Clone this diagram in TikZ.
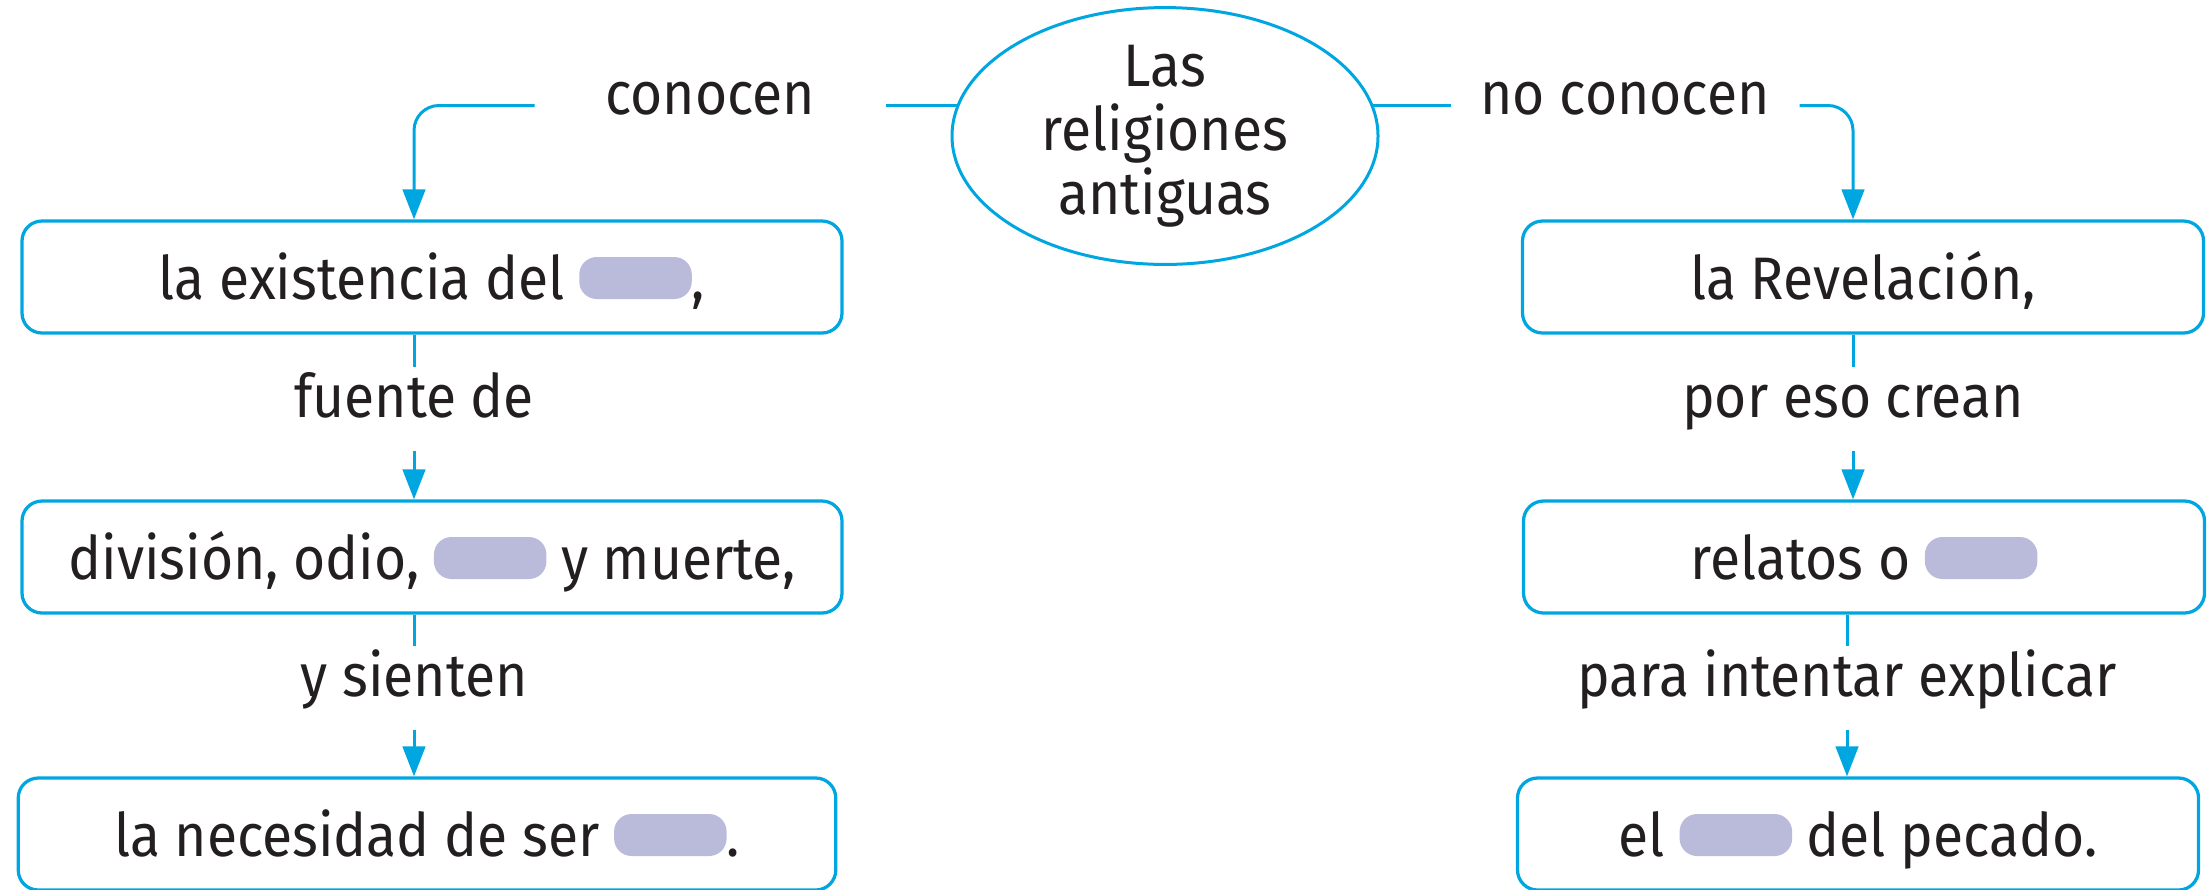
\documentclass[tikz,border=0pt]{standalone}
\usepackage{fontspec}
\setmainfont{Fira Sans}[FakeStretch=0.92]
\usetikzlibrary{shapes.geometric,arrows.meta,backgrounds}
\definecolor{lineblue}{RGB}{0,166,224}
\definecolor{blankc}{RGB}{186,187,219}
\definecolor{txt}{RGB}{35,31,32}
\newcommand{\blank}{\tikz[baseline=0pt]\fill[blankc,rounded corners=7pt] (0pt,0pt) rectangle (45pt,16.8pt);}
\begin{document}
\begin{tikzpicture}[x=0.4pt,y=-0.4pt,
  font=\fontsize{24pt}{25.5pt}\selectfont, text=txt,
  conn/.style={draw=lineblue,line width=1.2pt},
  arr/.style={-{Triangle[length=12pt,width=9pt]}},
  box/.style={draw=lineblue,line width=1.3pt,rounded corners=8pt,minimum height=44.8pt,
    inner sep=0pt,align=center,text height=17.6pt,text depth=0pt},
  ell/.style={ellipse,draw=lineblue,line width=1.2pt,fill=white,minimum width=170.4pt,
    minimum height=90pt,inner sep=0pt,align=center},
  lbl/.style={anchor=base,text height=16.4pt,text depth=9.6pt,inner ysep=3.6pt,inner xsep=0pt}]
\useasboundingbox (0,0) rectangle (2211,889);

% central ellipse
\node[ell] (c) at (1165,136) {Las\\religiones\\antiguas};

% boxes
\node[box,minimum width=328pt] (L1) at (432,277) {la existencia del \blank,};
\node[box,minimum width=328pt] (L2) at (432,557) {división, odio, \blank{} y muerte,};
\node[box,minimum width=327pt] (L3) at (427,834) {la necesidad de ser \blank.};
\node[box,minimum width=272.4pt] (R1) at (1863,277) {la Revelación,};
\node[box,minimum width=272.4pt] (R2) at (1864,557) {relatos o \blank};
\node[box,minimum width=272.4pt] (R3) at (1858,834) {el \blank{} del pecado.};

% labels
\node[lbl,minimum width=140pt] (l1) at (710,114) {conocen};
\node[lbl,minimum width=139.2pt] (l2) at (1625,114) {no conocen};
\node[lbl] (f1) at (414,417) {fuente de};
\node[lbl] (f2) at (414,696) {y sienten};
\node[lbl] (g1) at (1853,417) {por eso crean};
\node[lbl] (g2) at (1847,696) {para intentar explicar};

% connectors
\begin{scope}[on background layer]
\draw[conn] (l1.east) -- (l1.east -| c.center);
\draw[conn] (l2.west) -- (l2.west -| c.center);
\end{scope}
\draw[conn,arr,rounded corners=10pt] (l1.west) -| (L1.north -| f1);
\draw[conn,arr,rounded corners=10pt] (l2.east) -| (R1.north -| g1);
\draw[conn] (L1.south -| f1) -- (f1.north);
\draw[conn,arr] (f1.south) -- (L2.north -| f1);
\draw[conn] (L2.south -| f2) -- (f2.north);
\draw[conn,arr] (f2.south) -- (L3.north -| f2);
\draw[conn] (R1.south -| g1) -- (g1.north);
\draw[conn,arr] (g1.south) -- (R2.north -| g1);
\draw[conn] (R2.south -| g2) -- (g2.north);
\draw[conn,arr] (g2.south) -- (R3.north -| g2);
\end{tikzpicture}
\end{document}
